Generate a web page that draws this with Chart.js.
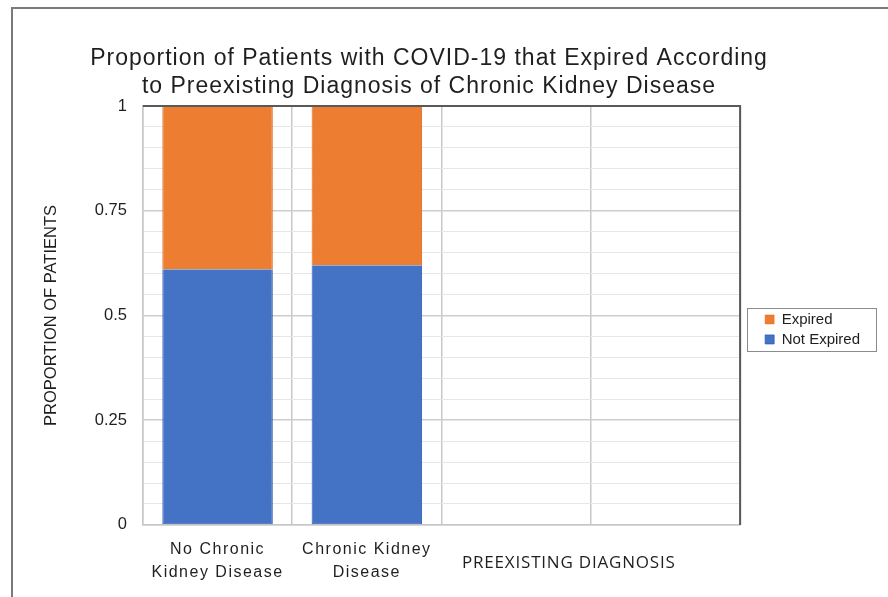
<!DOCTYPE html>
<html>
<head>
<meta charset="utf-8">
<script src="https://cdn.jsdelivr.net/npm/chart.js@4"></script>
<style>
  html, body { margin: 0; padding: 0; background: #fff; }
  #wrap { width: 888px; height: 597px; position: relative; }
</style>
</head>
<body>
<div id="wrap"><canvas id="chart"></canvas></div>
<script>
// values
const categories = [['No Chronic', 'Kidney Disease'], ['Chronic Kidney', 'Disease'], '', ''];
const notExpired = [0.61, 0.62, null, null];
const expired = [0.39, 0.38, null, null];
const titleLines = ['Proportion of Patients with COVID-19 that Expired According', 'to Preexisting Diagnosis of Chronic Kidney Disease'];
const yTitle = 'PROPORTION OF PATIENTS';
const xTitle = 'PREEXISTING DIAGNOSIS';

const ORANGE = '#ED7D31';
const BLUE = '#4472C4';
const TEXT = '#1f1f1f';

// shift applied to the legend so it sits like the original (set after layout)
let legendShift = { x: 0, y: 0 };

// frame lines, plot border, legend box and the x axis caption
const decor = {
  id: 'decor',
  beforeDraw(chart) {
    const ctx = chart.ctx;
    ctx.save();
    ctx.strokeStyle = '#7a7a7a';
    ctx.lineWidth = 2;
    ctx.beginPath();
    ctx.moveTo(12, chart.height);
    ctx.lineTo(12, 8);
    ctx.lineTo(chart.width, 8);
    ctx.stroke();
    ctx.restore();
  },
  afterDraw(chart) {
    const ctx = chart.ctx;
    const a = chart.chartArea;
    ctx.save();
    ctx.strokeStyle = '#595959';
    ctx.lineWidth = 2;
    ctx.beginPath();
    ctx.moveTo(a.left, a.top);
    ctx.lineTo(a.right, a.top);
    ctx.lineTo(a.right, a.bottom);
    ctx.stroke();

    // legend frame
    const boxes = chart.legend.legendHitBoxes;
    if (boxes && boxes.length) {
      let l = Infinity, t = Infinity, r = -Infinity, b = -Infinity;
      boxes.forEach((h) => {
        l = Math.min(l, h.left); t = Math.min(t, h.top);
        r = Math.max(r, h.left + h.width); b = Math.max(b, h.top + h.height);
      });
      l += legendShift.x; r += legendShift.x;
      t += legendShift.y; b += legendShift.y;
      ctx.strokeStyle = '#8c8c8c';
      ctx.lineWidth = 1;
      ctx.strokeRect(Math.round(l - 18) + 0.5, Math.round(t - 4) + 0.5, Math.round(r - l + 34), Math.round(b - t + 8));
    }

    // x axis caption, beside the tick labels under the empty categories
    const x = chart.scales.x;
    const cx = (x.getPixelForValue(2) + x.getPixelForValue(3)) / 2 - 22;
    ctx.fillStyle = TEXT;
    ctx.font = '17px "Open Sans", "Liberation Sans", Arial, sans-serif';
    ctx.letterSpacing = '0.8px';
    ctx.textAlign = 'center';
    ctx.textBaseline = 'middle';
    ctx.fillText(xTitle, cx, a.bottom + 38);
    ctx.restore();
  }
};

// wraps a box's draw method: optional letter spacing and offset
function wrapDraw(obj, fnName, spacing, offset) {
  const orig = obj[fnName].bind(obj);
  obj[fnName] = function (...args) {
    const ctx = obj.ctx;
    const prev = ctx.letterSpacing;
    const o = offset ? offset() : { x: 0, y: 0 };
    ctx.save();
    ctx.translate(o.x, o.y);
    ctx.letterSpacing = spacing;
    orig(...args);
    ctx.restore();
    ctx.letterSpacing = prev || '0px';
  };
}

function initChart() {
  const ctx = document.getElementById('chart').getContext('2d');
  const chart = new Chart(ctx, {
    type: 'bar',
    data: {
      labels: categories,
      datasets: [
        {
          label: 'Not Expired',
          data: notExpired,
          backgroundColor: BLUE,
          borderColor: '#2f5cb8',
          borderWidth: { left: 1, right: 1, bottom: 1, top: 0 },
          borderSkipped: false,
          barPercentage: 0.74,
          categoryPercentage: 1,
        },
        {
          label: 'Expired',
          data: expired,
          backgroundColor: ORANGE,
          borderColor: '#e0691a',
          borderWidth: { left: 1, right: 1, bottom: 0, top: 0 },
          borderSkipped: false,
          barPercentage: 0.74,
          categoryPercentage: 1,
        },
      ],
    },
    options: {
      animation: false,
      responsive: true,
      maintainAspectRatio: false,
      layout: { padding: { left: 42, right: 38, top: 45, bottom: 0 } },
      plugins: {
        title: {
          display: true,
          text: titleLines,
          color: TEXT,
          font: { family: '"Liberation Sans", Arial, sans-serif', size: 23, weight: 'normal', lineHeight: 1.217 },
          padding: { top: 0, bottom: 5 },
        },
        legend: {
          position: 'right',
          reverse: true,
          labels: {
            color: TEXT,
            boxWidth: 9,
            boxHeight: 9,
            padding: 5,
            font: { family: '"Liberation Sans", Arial, sans-serif', size: 15 },
          },
        },
        tooltip: { enabled: false },
      },
      scales: {
        x: {
          stacked: true,
          grid: { color: '#c8c8c8', lineWidth: 1.5, drawTicks: false },
          border: { color: '#c8c8c8', width: 1.5 },
          ticks: {
            color: TEXT,
            padding: 13,
            maxRotation: 0,
            font: { family: '"Liberation Sans", Arial, sans-serif', size: 16, lineHeight: 1.44 },
          },
        },
        y: {
          stacked: true,
          min: 0,
          max: 1,
          grid: {
            drawTicks: false,
            color: (c) => {
              const v = Math.round(c.tick.value * 100);
              return v % 25 === 0 ? '#cdcdcd' : '#e6e6e6';
            },
            lineWidth: (c) => (Math.round(c.tick.value * 100) % 25 === 0 ? 1.5 : 1),
          },
          border: { color: '#c8c8c8', width: 1.5 },
          title: {
            display: true,
            text: yTitle,
            color: TEXT,
            font: { family: '"Liberation Sans", Arial, sans-serif', size: 16.5 },
            padding: { top: 0, bottom: 17 },
          },
          ticks: {
            stepSize: 0.05,
            autoSkip: false,
            padding: 16,
            color: TEXT,
            font: { family: '"Liberation Sans", Arial, sans-serif', size: 16.5 },
            callback: (value) => {
              const v = Math.round(value * 100);
              return v % 25 === 0 ? String(v / 100) : '';
            },
          },
        },
      },
    },
    plugins: [decor],
  });

  // title: spaced lettering, centred a bit left of the canvas middle
  wrapDraw(chart.titleBlock, 'draw', '1px', () => ({
    x: 429 - (chart.titleBlock.left + chart.titleBlock.right) / 2,
    y: 0,
  }));
  // category labels: spaced lettering
  wrapDraw(chart.scales.x, 'drawLabels', '1.5px');
  // legend: nudged right of the plot and slightly below its middle
  wrapDraw(chart.legend, 'draw', '0px', () => {
    const a = chart.chartArea;
    const boxes = chart.legend.legendHitBoxes;
    const first = boxes[0];
    const last = boxes[boxes.length - 1];
    const mid = (first.top + last.top + last.height) / 2;
    legendShift = {
      x: a.right + 25 - first.left,
      y: (a.top + a.bottom) / 2 + 14 - mid,
    };
    return legendShift;
  });
  chart.update('none');
}

document.addEventListener('DOMContentLoaded', initChart);
</script>
</body>
</html>
